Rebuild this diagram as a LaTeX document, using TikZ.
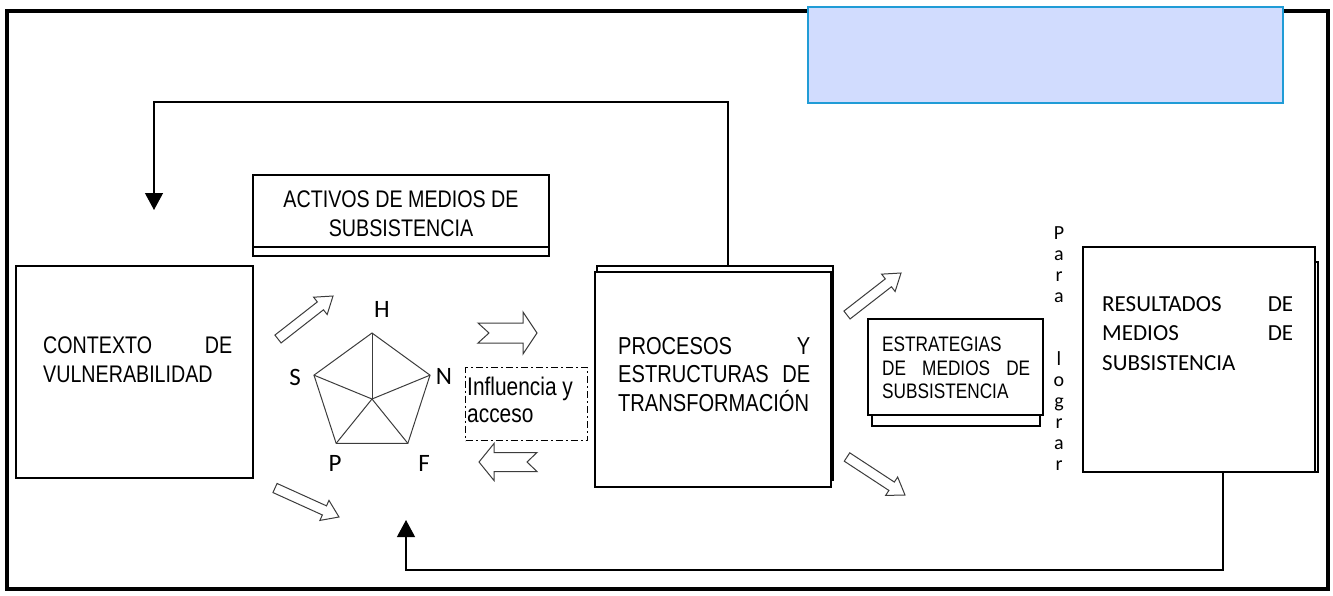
\documentclass[tikz,border=0pt]{standalone}
\usepackage{fontspec}
\setmainfont{Liberation Sans}
\newfontfamily\narrowsf{Liberation Sans}[FakeStretch=0.82]
\newfontfamily\calsf{Carlito}
\usepackage{xcolor}
\usepackage{tikz}
\usetikzlibrary{shapes.geometric, arrows.meta, positioning, calc}
\definecolor{panelfill}{RGB}{209,220,254}
\definecolor{paneledge}{RGB}{32,156,214}
\definecolor{linegray}{RGB}{60,60,60}

% hollow block arrow: tail, tip, half shaft, half head, head length, notch
\newcommand{\hollowarrow}[6]{%
  \coordinate (hb) at ($(#2)!#5!(#1)$);
  \coordinate (nk) at ($(#1)!#6!(#2)$);
  \draw[blockarrow] ($(#1)!#3!90:(#2)$) -- ($(hb)!#3!-90:(#1)$) -- ($(hb)!#4!-90:(#1)$) -- (#2)
    -- ($(hb)!#4!90:(#1)$) -- ($(hb)!#3!90:(#1)$) -- ($(#1)!#3!-90:(#2)$) -- (nk) -- cycle;
}

\begin{document}
\begin{tikzpicture}[x=1pt, y=-1pt,
  box/.style={draw, line width=1.1pt, inner sep=0pt, outer sep=0pt, anchor=north west, fill=white},
  bodytext/.style={inner sep=0pt, anchor=north west, align=left, font=\narrowsf\fontsize{24}{29}\selectfont},
  corner/.style={font=\calsf\fontsize{25}{28}\selectfont, inner sep=0pt},
  link/.style={line width=1.2pt, -{Triangle[width=18pt,length=17pt]}},
  blockarrow/.style={draw=linegray, line width=1pt, fill=white, line join=miter}]
\useasboundingbox (0,0) rectangle (1333,595);
\draw[line width=3.5pt] (7,11) rectangle (1328,589);

% loops
\coordinate (toploop) at (728,102);
\coordinate (ctxin) at (154,210);
\coordinate (botloop) at (1223,570);
\coordinate (pentin) at (406,520);

% boxes
\node[box, minimum width=237, minimum height=212] (ctx) at (16,266) {};
\node[box, minimum width=296, minimum height=81] (actback) at (253,175) {};
\node[box, minimum width=296, minimum height=72] (act) at (253,175) {};
\node[box, minimum width=236, minimum height=214] (procback) at (597,266) {};
\node[box, minimum width=236, minimum height=215] (proc) at (595,272) {};
\node[box, minimum width=168, minimum height=96] (estrback) at (872,330) {};
\node[box, minimum width=175, minimum height=96] (estr) at (868,319) {};
\node[box, minimum width=231, minimum height=210] (resback) at (1087,262) {};
\node[box, minimum width=232, minimum height=225] (res) at (1083,247) {};
\node[draw, line width=1.2pt, dash pattern=on 7pt off 3pt on 2pt off 3pt, minimum width=122, minimum height=73, anchor=north west, inner sep=0pt] (infl) at (465,367) {};
\node[draw=paneledge, fill=panelfill, line width=2pt, minimum width=475, minimum height=96, anchor=north west, inner sep=0pt, outer sep=0pt] (panel) at (808,7) {};

\draw[link] (procback.north -| toploop) -- (toploop) -| (ctxin);
\draw[link] (res.south -| botloop) -- (botloop) -| (pentin);

% texts
\node[bodytext, text width=189pt] (ctxtext) at (43,337) {CONTEXTO\hfill DE\\VULNERABILIDAD};
\node[bodytext, anchor=north, align=center] (acttext) at (401,191) {ACTIVOS DE MEDIOS DE\\SUBSISTENCIA};
\node[bodytext, font=\narrowsf\fontsize{24.5}{28.5}\selectfont, text width=192pt] (proctext) at (618,337) {PROCESOS\hfill Y\\ESTRUCTURAS\hfill DE\\TRANSFORMACIÓN};
\node[bodytext, font=\narrowsf\fontsize{21}{23.5}\selectfont, text width=148pt] (estrtext) at (882,337) {ESTRATEGIAS\\DE\hfill MEDIOS\hfill DE\\SUBSISTENCIA};
\node[bodytext, font=\calsf\fontsize{23}{29.5}\selectfont, text width=191pt] (restext) at (1102,296) {RESULTADOS\hfill DE\\MEDIOS\hfill DE\\SUBSISTENCIA};
\node[bodytext, font=\narrowsf\fontsize{25.5}{27}\selectfont] (infltext) at (467,377) {Influencia y\\acceso};
\node[font=\calsf\fontsize{20}{21}\selectfont, align=center, inner sep=0pt, anchor=north] (goal) at (1059,226) {P\\a\\r\\a\\[42pt]l\\o\\g\\r\\a\\r};

% pentagon
\node[draw=linegray, line width=1pt, regular polygon, regular polygon sides=5, minimum size=122pt, inner sep=0pt, outer sep=0pt] (pent) at (372,394) {};
\coordinate (hub) at (372,399);
\foreach \c in {1,...,5}
  \draw[draw=linegray, line width=1pt] (hub) -- (pent.corner \c);
\node[corner] (lh) at (382,309) {H};
\node[corner] (ls) at (295,377) {S};
\node[corner] (ln) at (444,376) {N};
\node[corner] (lp) at (335,463) {P};
\node[corner] (lf) at (424,463) {F};

% block arrows
\hollowarrow{278,339}{333,296}{5pt}{11pt}{16pt}{0pt}
\hollowarrow{275,488}{339,517}{5pt}{11pt}{16pt}{0pt}
\hollowarrow{847,315}{901,273}{5pt}{11pt}{16pt}{0pt}
\hollowarrow{847,457}{905,495}{5pt}{11pt}{16pt}{0pt}
\hollowarrow{478,333}{537,333}{10pt}{21pt}{14pt}{11pt}
\hollowarrow{537,462}{479,462}{9.5pt}{18.5pt}{15pt}{10pt}
\end{tikzpicture}
\end{document}
